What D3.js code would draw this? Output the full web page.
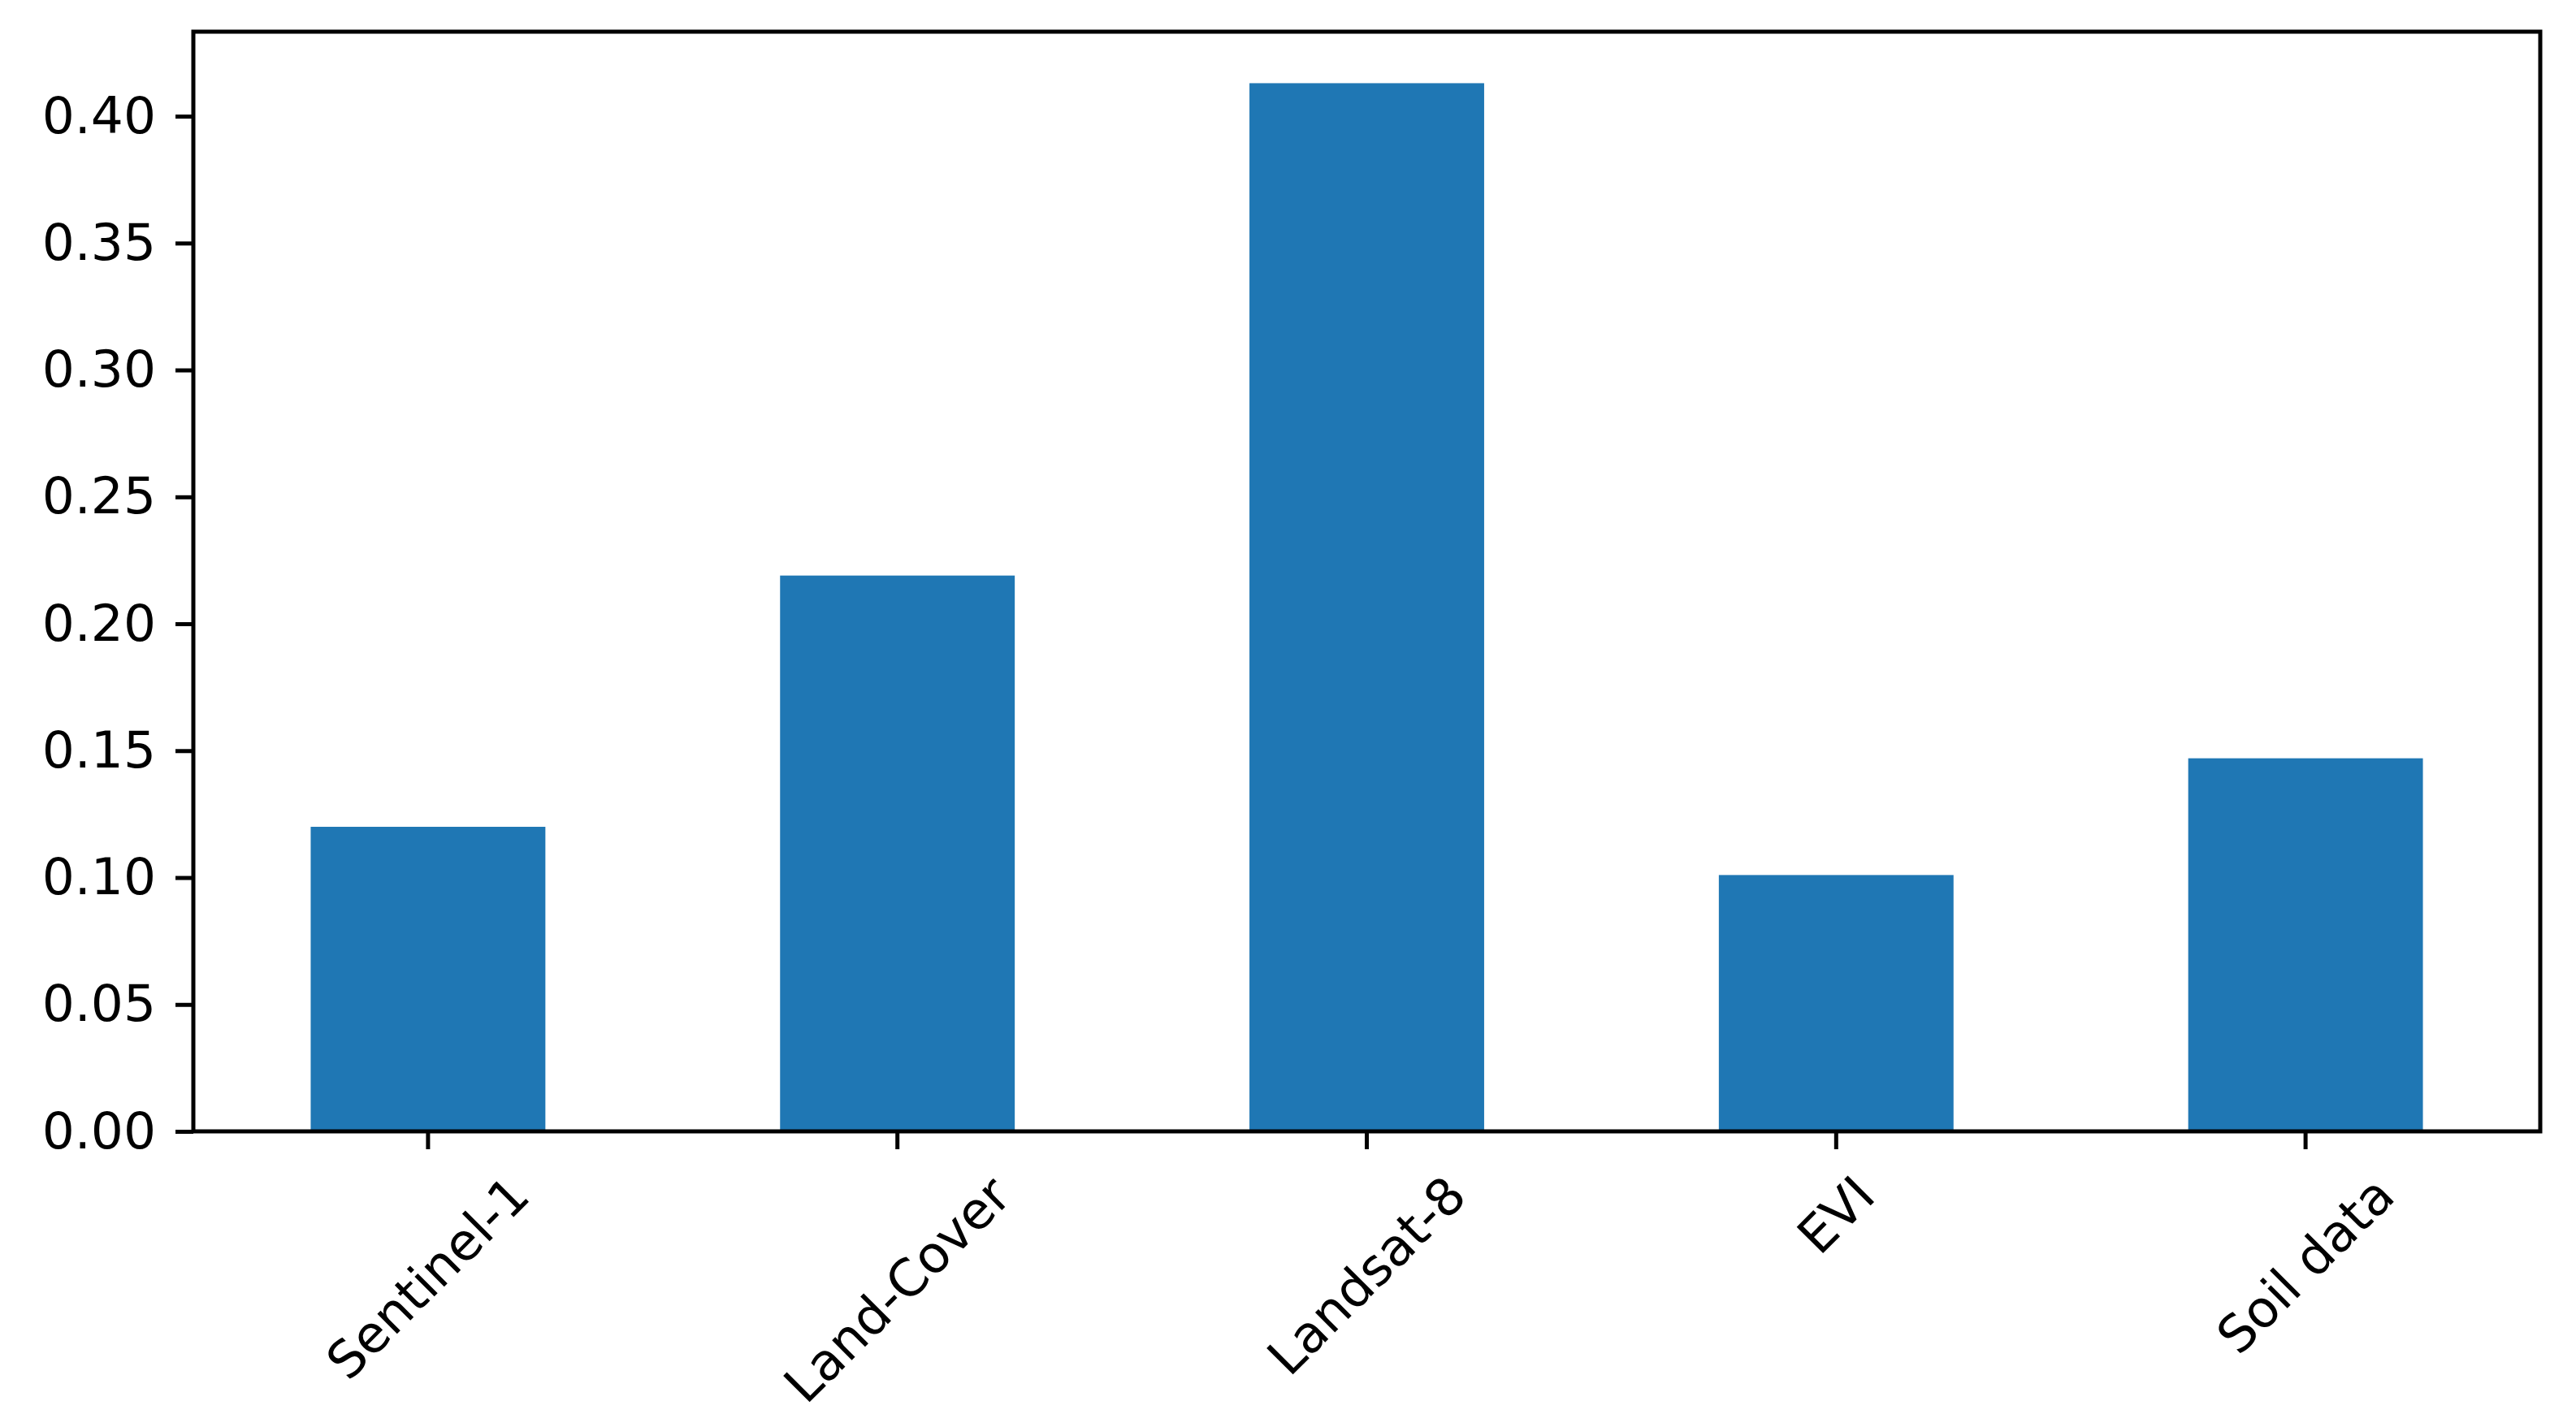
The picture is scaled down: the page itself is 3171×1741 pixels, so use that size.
<!DOCTYPE html>
<html>
<head>
<meta charset="utf-8">
<script src="https://cdn.jsdelivr.net/npm/d3@7"></script>
<style>
  html, body { margin: 0; padding: 0; background: #fff; }
  svg { display: block; }
</style>
</head>
<body>
<script>
const categories = ["Sentinel-1", "Land-Cover", "Landsat-8", "EVI", "Soil data"];
const values = [0.120, 0.219, 0.413, 0.101, 0.147];
const yTicks = [0.00, 0.05, 0.10, 0.15, 0.20, 0.25, 0.30, 0.35, 0.40];
const yMax = 0.4333;

const W = 3171, H = 1741;
const margin = { left: 238, right: 44, top: 39, bottom: 348 };
const fontSize = 63;
const tickLen = 22;
const lineW = 5;

const svg = d3.select("body").append("svg")
  .attr("width", W).attr("height", H)
  .style("font-family", "'DejaVu Sans', sans-serif");

const x = d3.scaleBand()
  .domain(categories)
  .range([margin.left, W - margin.right])
  .paddingInner(0.5)
  .paddingOuter(0.25);

const y = d3.scaleLinear()
  .domain([0, yMax])
  .range([H - margin.bottom, margin.top]);

// bars
svg.append("g").selectAll("rect")
  .data(categories.map((c, i) => ({ c, v: values[i] })))
  .join("rect")
  .attr("x", d => x(d.c))
  .attr("width", x.bandwidth())
  .attr("y", d => y(d.v))
  .attr("height", d => y(0) - y(d.v))
  .attr("fill", "#1f77b4");

// y axis
const yAxis = svg.append("g")
  .attr("transform", `translate(${margin.left},0)`)
  .call(d3.axisLeft(y).tickValues(yTicks).tickFormat(d3.format(".2f"))
    .tickSize(tickLen).tickPadding(24));
yAxis.select(".domain").remove();
yAxis.selectAll(".tick line").attr("stroke", "#000").attr("stroke-width", lineW);
yAxis.selectAll(".tick text")
  .attr("font-size", fontSize)
  .attr("font-family", "'DejaVu Sans', sans-serif")
  .attr("fill", "#000");

// x axis
const xAxis = svg.append("g")
  .attr("transform", `translate(0,${H - margin.bottom})`)
  .call(d3.axisBottom(x).tickSize(tickLen).tickFormat(""));
xAxis.select(".domain").remove();
xAxis.selectAll(".tick line").attr("stroke", "#000").attr("stroke-width", lineW);

// rotated x labels (matplotlib-style: rotated bbox centered under tick)
const labelTop = H - margin.bottom + tickLen + 21;
const lblG = svg.append("g");
categories.forEach(c => {
  const t = lblG.append("text")
    .attr("font-size", fontSize)
    .attr("text-anchor", "middle")
    .attr("dominant-baseline", "central")
    .attr("fill", "#000")
    .text(c);
  const w = t.node().getComputedTextLength();
  const boxH = (w + fontSize * 1.1) * Math.SQRT1_2;
  const cx = x(c) + x.bandwidth() / 2;
  const cy = labelTop + boxH / 2;
  t.attr("transform", `translate(${cx},${cy}) rotate(-45)`);
});

// frame (spines)
svg.append("rect")
  .attr("x", margin.left)
  .attr("y", margin.top)
  .attr("width", W - margin.left - margin.right)
  .attr("height", H - margin.top - margin.bottom)
  .attr("fill", "none")
  .attr("stroke", "#000")
  .attr("stroke-width", lineW);
</script>
</body>
</html>
